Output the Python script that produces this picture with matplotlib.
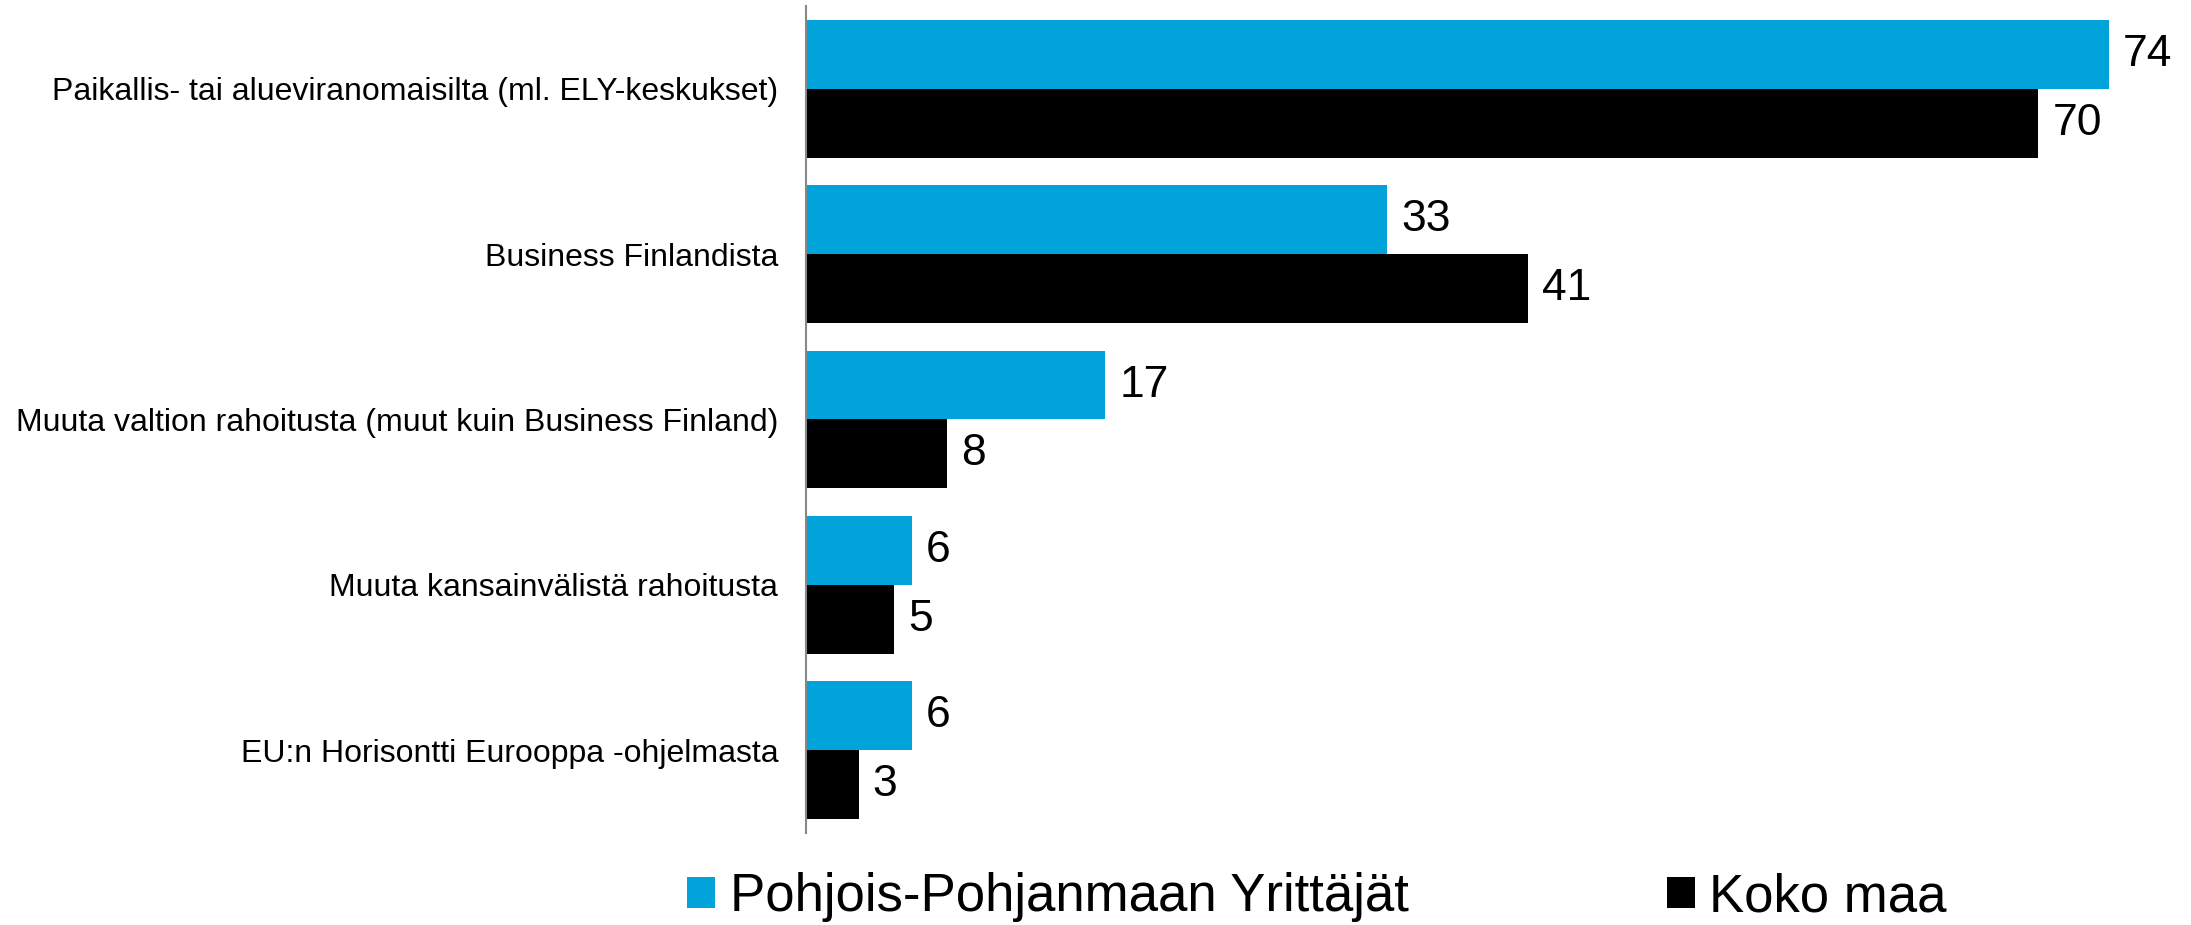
import matplotlib
matplotlib.use("Agg")
import matplotlib.pyplot as plt
import numpy as np

categories = [
    "Paikallis- tai alueviranomaisilta (ml. ELY-keskukset)",
    "Business Finlandista",
    "Muuta valtion rahoitusta (muut kuin Business Finland)",
    "Muuta kansainvälistä rahoitusta",
    "EU:n Horisontti Eurooppa -ohjelmasta",
]
series_names = ["Pohjois-Pohjanmaan Yrittäjät", "Koko maa"]
pohjois = [74, 33, 17, 6, 6]
koko = [70, 41, 8, 5, 3]
colors = ["#02A3DA", "#000000"]

plt.rcParams['font.family'] = ['Liberation Sans', 'DejaVu Sans']

fig = plt.figure(figsize=(21.91, 9.25), dpi=100)
ax = fig.add_axes([806/2191, 1-833/925, 1338/2191, (833-6)/925])

y = np.arange(len(categories))
h = 0.417
b1 = ax.barh(y - h/2, pohjois, height=h, color=colors[0], label=series_names[0])
b2 = ax.barh(y + h/2, koko, height=h, color=colors[1], label=series_names[1])

for bars, vals in [(b1, pohjois), (b2, koko)]:
    for bar, v in zip(bars, vals):
        ax.annotate(str(v), (bar.get_width(), bar.get_y() + bar.get_height()/2),
                    xytext=(10, 0), textcoords="offset points", va="center", ha="left",
                    fontsize=32, clip_on=False)

ax.set_xlim(0, 76)
ax.set_ylim(len(categories) - 0.5, -0.5)
ax.set_yticks(y)
ax.set_yticklabels(categories, fontsize=23)
ax.tick_params(axis='y', length=0, pad=20)
ax.set_xticks([])
for s in ["top", "right", "bottom"]:
    ax.spines[s].set_visible(False)
ax.spines["left"].set_color("#888888")
ax.spines["left"].set_linewidth(1.5)

fig.legend(handles=[b1, b2], labels=series_names, loc="center", bbox_to_anchor=(1317/2191, 0.03),
           ncol=2, frameon=False, fontsize=38, handlelength=0.53, handleheight=0.53,
           handletextpad=0.27, columnspacing=4.9)

fig.savefig("out.png", dpi=100)
